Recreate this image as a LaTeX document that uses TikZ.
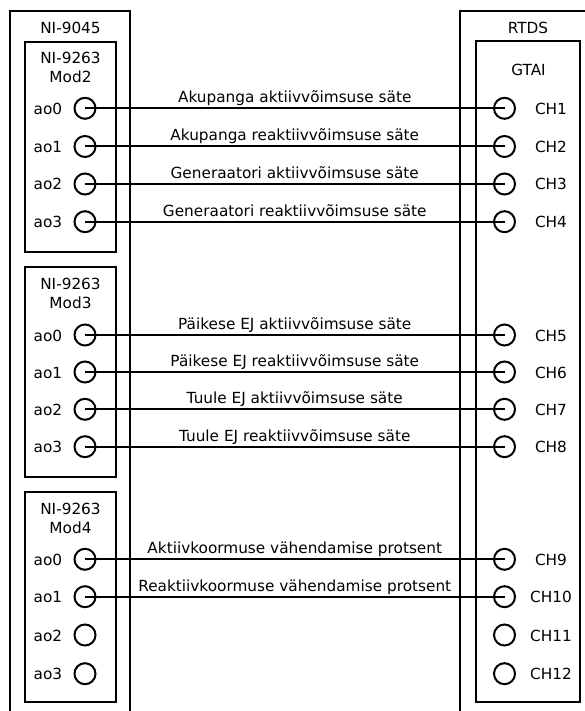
\documentclass[tikz,border=0pt]{standalone}
\usepackage{fontspec}
\setmainfont{DejaVu Sans}
\begin{document}
\begin{tikzpicture}[x=1pt,y=-1pt,
  frame/.style={draw, line width=2pt},
  term/.style={circle, draw, line width=2pt, minimum size=21pt, inner sep=0pt},
  lbl/.style={font=\fontsize{15.3}{18}\selectfont, inner sep=0pt},
  wire/.style={line width=2pt},
  wlbl/.style={lbl, anchor=base, yshift=5.5pt}]
\useasboundingbox (0,0) rectangle (585,711);
\clip (0,0) rectangle (585,711);
% outer housings (open at bottom / right)
\draw[frame] (10,720) -- (10,11) -- (130,11) -- (130,720);
\draw[frame] (460,720) -- (460,11) -- (595,11);
\node[lbl, anchor=base] (ni9045) at (70.5,33.3) {NI-9045};
\node[lbl, anchor=base] (rtds) at (528,33.3) {RTDS};
% right inner box
\draw[frame] (476,41) rectangle (580,702);
\node[lbl, anchor=base] (gtai) at (528.5,76) {GTAI};
% module boxes
\foreach \T/\m in {42/2,267/3,492/4}{
  \draw[frame] (25,\T) rectangle (116,\T+210);
  \node[lbl, anchor=base] (ni\m) at (70.5,\T+22) {NI-9263};
  \node[lbl, anchor=base] (mod\m) at (70.5,\T+41) {Mod\m};
}
% terminals
\foreach \i/\y in {1/108.3,2/146.5,3/184,4/221.7,5/335,6/372,7/409.3,8/446.7,9/559.3,10/596.7,11/635,12/673.7}{
  \pgfmathtruncatemacro\k{mod(\i-1,4)}
  \node[term] (l\i) at (85,\y) {};
  \node[term] (r\i) at (504.5,\y) {};
  \node[lbl, anchor=base east] (al\i) at (62.3,\y+6) {ao\k};
  \node[lbl, anchor=base] (ch\i) at (551,\y+6) {CH\i};
}
% wires
\foreach \i/\t in {1/Akupanga aktiivvõimsuse säte,
                   2/Akupanga reaktiivvõimsuse säte,
                   3/Generaatori aktiivvõimsuse säte,
                   4/Generaatori reaktiivvõimsuse säte,
                   5/Päikese EJ aktiivvõimsuse säte,
                   6/Päikese EJ reaktiivvõimsuse säte,
                   7/Tuule EJ aktiivvõimsuse säte,
                   8/Tuule EJ reaktiivvõimsuse säte,
                   9/Aktiivkoormuse vähendamise protsent,
                   10/Reaktiivkoormuse vähendamise protsent}{
  \draw[wire] (l\i.center) -- node[wlbl] (w\i) {\t} (r\i.center);
}
\end{tikzpicture}
\end{document}
